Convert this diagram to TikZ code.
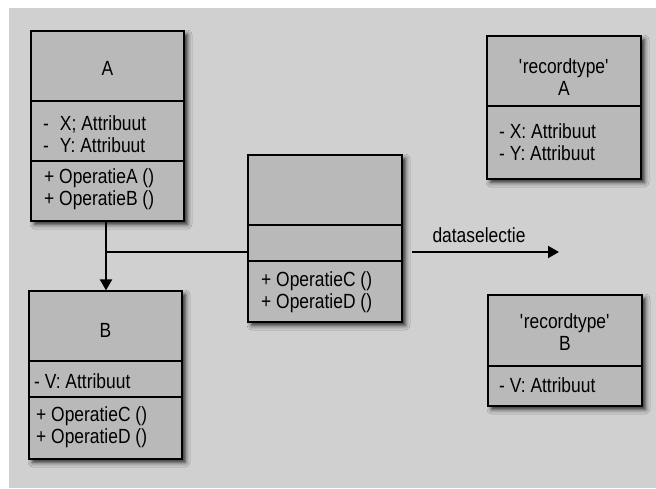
\documentclass[tikz,border=0pt]{standalone}
\usepackage{fontspec}
\setmainfont{Liberation Sans}[FakeStretch=0.85]
\usetikzlibrary{arrows.meta,shadows.blur}

\definecolor{canvas}{RGB}{208,208,208}
\definecolor{boxfill}{RGB}{185,185,185}

\tikzset{
  umlbox/.style={draw=black, line width=1.2pt, fill=boxfill, inner sep=0pt,
    blur shadow={shadow xshift=3.5pt, shadow yshift=-3.5pt, shadow blur radius=4.5pt,
                 shadow opacity=80}},
  divider/.style={draw=black, line width=1.2pt},
  conn/.style={draw=black, line width=2pt},
  tip/.style={-{Triangle[width=12pt,length=11pt]}},
  txt/.style={inner sep=0pt, font=\fontsize{20.5}{21.5}\selectfont},
  % multi-line texts are placed by the baseline of their last line
  rows/.style={txt, anchor=base west, align=left},
  title/.style={txt, align=center},
}
\newcommand{\sq}{\textquotesingle}

\begin{document}
\begin{tikzpicture}[x=1pt, y=-1pt]
  \useasboundingbox (0,0) rectangle (656,488);
  \fill[canvas] (9,8) rectangle (656,488);

  % class boxes
  \node[umlbox, minimum width=153pt, minimum height=190pt] (A)  at (107.5,126)   {};
  \node[umlbox, minimum width=153pt, minimum height=168pt] (B)  at (105.5,375)   {};
  \node[umlbox, minimum width=154pt, minimum height=167pt] (C)  at (325,238.5)   {};
  \node[umlbox, minimum width=154pt, minimum height=143pt] (RA) at (564,107.5)   {};
  \node[umlbox, minimum width=154pt, minimum height=111pt] (RB) at (565,350.5)   {};

  % compartment lines
  \draw[divider] (A.west |- 0,101) -- (A.east |- 0,101);
  \draw[divider] (A.west |- 0,161) -- (A.east |- 0,161);
  \draw[divider] (B.west |- 0,361) -- (B.east |- 0,361);
  \draw[divider] (B.west |- 0,397) -- (B.east |- 0,397);
  \draw[divider] (C.west |- 0,225) -- (C.east |- 0,225);
  \draw[divider] (C.west |- 0,261) -- (C.east |- 0,261);
  \draw[divider] (RA.west |- 0,106) -- (RA.east |- 0,106);
  \draw[divider] (RB.west |- 0,366) -- (RB.east |- 0,366);

  % connectors
  \coordinate (j) at (106,252);
  \draw[conn, tip] (A.south -| j) -- (B.north -| j);
  \draw[conn] (j) -- (j -| C.west);
  \coordinate (ds0) at (412,252);
  \coordinate (ds1) at (559,252);
  \draw[conn, tip] (ds0) -- (ds1);

  % class A
  \node[title] (Aname) at (107.5,68) {A};
  \node[rows] (Aattr) at (43,152) {-\hspace{11pt}X; Attribuut\\-\hspace{11pt}Y: Attribuut};
  \node[rows] (Aops) at (44,205) {+ OperatieA ()\\+ OperatieB ()};

  % class B
  \node[title] (Bname) at (105.5,330) {B};
  \node[rows] (Battr) at (34,388) {- V: Attribuut};
  \node[rows] (Bops) at (36,443) {+ OperatieC ()\\+ OperatieD ()};

  % anonymous class
  \node[rows] (Cops) at (261,308) {+ OperatieC ()\\+ OperatieD ()};

  % record types
  \node[title, anchor=base] (RAname) at (564,95) {\sq recordtype\sq\\A};
  \node[rows] (RAattr) at (499,160) {- X: Attribuut\\- Y: Attribuut};
  \node[title, anchor=base] (RBname) at (565,350) {\sq recordtype\sq\\B};
  \node[rows] (RBattr) at (499,392) {- V: Attribuut};

  % connector label
  \node[txt, anchor=base] (dslabel) at (479,242) {dataselectie};
\end{tikzpicture}
\end{document}
